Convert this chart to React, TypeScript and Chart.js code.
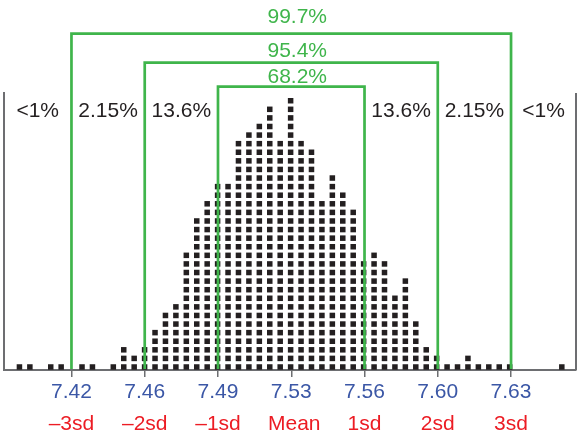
import React, { useEffect, useRef } from "react";
import { Chart, registerables } from "chart.js";

Chart.register(...registerables);

// Measured values: one column per 0.005 step
const BIN_VALUES = [
  7.395, 7.4, 7.405, 7.41, 7.415, 7.42, 7.425, 7.43, 7.435, 7.44,
  7.445, 7.45, 7.455, 7.46, 7.465, 7.47, 7.475, 7.48, 7.485, 7.49,
  7.495, 7.5, 7.505, 7.51, 7.515, 7.52, 7.525, 7.53, 7.535, 7.54,
  7.545, 7.55, 7.555, 7.56, 7.565, 7.57, 7.575, 7.58, 7.585, 7.59,
  7.595, 7.6, 7.605, 7.61, 7.615, 7.62, 7.625, 7.63, 7.635, 7.64,
  7.645, 7.65, 7.655,
];
// Number of stacked dots in each column
const COUNTS = [
  1, 1, 0, 1, 1, 0, 1, 1, 0, 1,
  3, 2, 3, 5, 7, 8, 14, 18, 20, 22,
  22, 27, 28, 29, 31, 27, 32, 27, 26, 20,
  23, 21, 19, 13, 14, 13, 9, 11, 6, 3,
  2, 1, 1, 2, 1, 1, 1, 1, 0, 0,
  0, 0, 1,
];

const MEAN = 7.5253;
const SD = 0.03512;
const X_MIN = 7.3876;
const X_MAX = 7.6618;

const SD_STEPS = [-3, -2, -1, 0, 1, 2, 3];
const TICK_VALUE_LABELS = ["7.42", "7.46", "7.49", "7.53", "7.56", "7.60", "7.63"];
const TICK_SD_LABELS = ["\u20133sd", "\u20132sd", "\u20131sd", "Mean", "1sd", "2sd", "3sd"];
const BAND_LABELS_LEFT = ["<1%", "2.15%", "13.6%"];
const BAND_LABELS_RIGHT = ["13.6%", "2.15%", "<1%"];
const COVERAGE_SD = [3, 2, 1];
const COVERAGE_LABELS = ["99.7%", "95.4%", "68.2%"];

const GREEN = "#3fb54b";
const BLUE = "#3b57a6";
const RED = "#ec1c24";
const INK = "#231f20";
const AXIS = "#6d6e71";
const FONT = "21px 'Liberation Sans', Arial, sans-serif";

const annotations = {
  id: "sdAnnotations",
  afterDraw(chart: any) {
    const { ctx, chartArea } = chart;
    const xs = chart.scales.x;
    const px = (v: number) => xs.getPixelForValue(v);
    const meanPx = px(MEAN);
    ctx.save();

    // right frame line
    ctx.strokeStyle = AXIS;
    ctx.lineWidth = 2;
    ctx.beginPath();
    ctx.moveTo(chartArea.right, chartArea.top);
    ctx.lineTo(chartArea.right, chartArea.bottom);
    ctx.stroke();

    ctx.font = FONT;
    ctx.textAlign = "center";
    ctx.textBaseline = "alphabetic";

    // coverage brackets
    const bracketTops = [33.7, 62.7, 86.7];
    const labelBase = [22.7, 57.3, 83.3];
    ctx.strokeStyle = GREEN;
    ctx.lineWidth = 2.7;
    ctx.lineJoin = "miter";
    COVERAGE_SD.forEach((n, i) => {
      const xl = px(MEAN - n * SD);
      const xr = px(MEAN + n * SD);
      ctx.beginPath();
      ctx.moveTo(xl, chartArea.bottom - 1);
      ctx.lineTo(xl, bracketTops[i]);
      ctx.lineTo(xr, bracketTops[i]);
      ctx.lineTo(xr, chartArea.bottom - 1);
      ctx.stroke();
      ctx.fillStyle = GREEN;
      ctx.fillText(COVERAGE_LABELS[i], meanPx + 6, labelBase[i]);
    });

    // band percentages
    ctx.fillStyle = INK;
    const leftEdges = [chartArea.left, px(MEAN - 3 * SD), px(MEAN - 2 * SD), px(MEAN - SD)];
    BAND_LABELS_LEFT.forEach((t, i) => {
      ctx.fillText(t, (leftEdges[i] + leftEdges[i + 1]) / 2, 117);
    });
    const rightEdges = [px(MEAN + SD), px(MEAN + 2 * SD), px(MEAN + 3 * SD), chartArea.right];
    BAND_LABELS_RIGHT.forEach((t, i) => {
      ctx.fillText(t, (rightEdges[i] + rightEdges[i + 1]) / 2, 117);
    });

    // tick labels
    SD_STEPS.forEach((n, i) => {
      const x = px(MEAN + n * SD);
      ctx.fillStyle = BLUE;
      ctx.fillText(TICK_VALUE_LABELS[i], x, 397.5);
      ctx.fillStyle = RED;
      ctx.fillText(TICK_SD_LABELS[i], x + (n === 0 ? 3 : 0), 430);
    });
    ctx.restore();
  },
};

export default function App() {
  const ref = useRef<HTMLCanvasElement>(null);
  useEffect(() => {
    if (!ref.current) return;
    const points: { x: number; y: number }[] = [];
    BIN_VALUES.forEach((v, i) => {
      for (let r = 1; r <= COUNTS[i]; r++) points.push({ x: v, y: r });
    });
    const chart = new Chart(ref.current, {
      type: "scatter",
      data: {
        datasets: [
          {
            data: points,
            pointStyle: "rect",
            pointRadius: 3.9,
            pointHoverRadius: 3.9,
            pointBorderWidth: 0,
            backgroundColor: INK,
            borderColor: INK,
          },
        ],
      },
      plugins: [annotations],
      options: {
        responsive: false,
        animation: false,
        events: [],
        layout: { autoPadding: false, padding: { left: 4, right: 1, top: 93, bottom: 59 } },
        plugins: { legend: { display: false }, tooltip: { enabled: false } },
        scales: {
          x: {
            type: "linear",
            min: X_MIN,
            max: X_MAX,
            afterBuildTicks: (scale: any) => {
              scale.ticks = SD_STEPS.map((n) => ({ value: MEAN + n * SD }));
            },
            ticks: { display: false },
            grid: {
              display: true,
              drawOnChartArea: false,
              drawTicks: true,
              tickLength: 7,
              color: AXIS,
              lineWidth: 1.5,
            },
            border: { display: true, color: AXIS, width: 2 },
          },
          y: {
            min: 0.65,
            max: 32.9,
            ticks: { display: false },
            grid: { display: false, drawTicks: false },
            border: { display: true, color: AXIS, width: 2 },
          },
        },
      },
    });
    return () => chart.destroy();
  }, []);
  return (
    <div style={{ position: "absolute", left: 0, top: 0, width: 577, height: 436, background: "#fff" }}>
      <canvas ref={ref} width={577} height={436} />
    </div>
  );
}
